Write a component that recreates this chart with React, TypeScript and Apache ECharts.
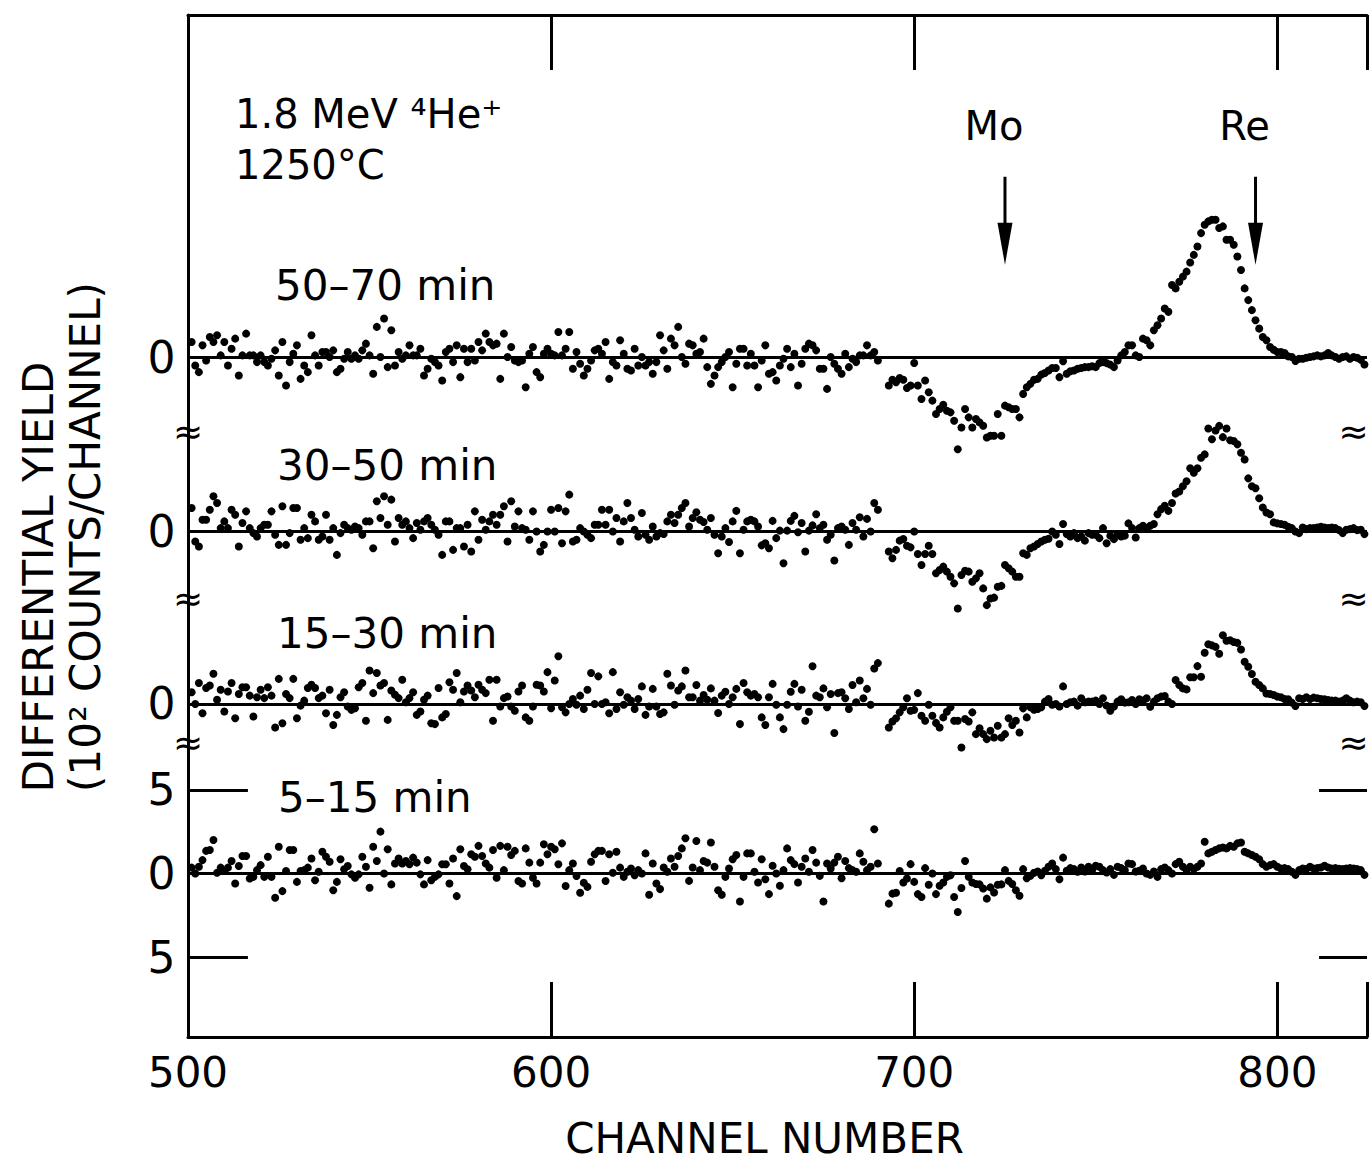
import React, { useEffect, useRef } from "react";
import * as echarts from "echarts";

const FONT = '"DejaVu Sans", sans-serif';

// channel numbers
const noiseStartChannel = 501;
const tailStartChannel = 693;
const xTickLabels = [500, 600, 700, 800];

// vertical offsets of the four stacked spectra (10^2 counts/channel)
const traceOffsets = [0, 10.12, 20.42, 30.83];
const traceLabels = ["5–15 min", "15–30 min", "30–50 min", "50–70 min"];

// ---------- 50-70 min ----------
const noise50_70 = [
  0.9,-0.5,-0.9,0.7,-0.2,1.2,0.9,1.3,0.1,0.9,
  -0.5,0.5,1.1,-1.1,0.1,1.4,0.1,0.1,-0.3,0.1,
  -0.3,-0.5,-0.1,0.4,-1.1,0.9,-1.7,-0.3,0.2,0.7,
  -1.3,-0.5,-0.9,1.3,0.1,-0.5,0.3,0.3,0.0,0.4,
  -0.9,-0.7,-0.1,0.3,-0.1,0.1,-0.1,0.4,0.8,0.1,
  -1.0,1.8,0.0,2.3,-0.6,1.6,-0.5,0.3,-0.1,0.1,
  0.7,0.1,0.1,0.5,-1.1,-0.7,-0.1,-0.3,-0.5,-1.4,
  0.3,0.5,-0.3,0.7,-1.2,0.5,-0.3,0.5,-0.2,0.9,
  0.4,1.4,0.9,0.7,0.8,-1.3,1.4,0.0,0.6,-0.2,
  -0.3,-0.2,-1.8,0.2,0.6,-0.9,-1.2,0.2,0.5,0.2,
  0.1,1.5,0.1,0.5,1.5,-0.7,0.3,-0.4,-1.1,-0.7,
  -0.2,0.4,0.5,0.2,0.9,-1.3,-0.3,-0.5,1.0,0.2,
  -0.7,-0.8,0.5,-0.5,0.0,-0.5,-0.3,-1.0,-0.3,1.3,
  0.4,-0.7,1.1,0.7,1.8,0.0,-0.4,0.8,0.7,0.2,
  0.3,1.1,-0.6,-1.6,-1.1,-0.6,-0.3,0.0,0.3,-1.8,
  -0.4,0.5,0.5,-0.5,0.2,-0.5,-1.8,-0.2,0.7,-1.0,
  -0.9,-1.4,-0.5,-0.1,0.5,-0.6,0.2,-1.7,-0.4,0.5,
  0.8,0.7,0.4,-0.7,-0.7,-1.9,0.0,-0.4,-0.7,-1.0,
  0.2,-0.6,-0.1,-0.3,0.1,0.1,0.7,0.1,0.3,-0.2,
];
const tail50_70 = [
  -1.7,-1.35,-1.5,-1.25,-1.35,-1.85,-1.7,-0.35,-1.7,-2.5,
  -1.4,-2.1,-2.6,-3.4,-3.1,-2.85,-3.2,-3.3,-3.8,-5.5,
  -4.2,-3.1,-3.6,-4.2,-3.7,-3.9,-4.1,-4.8,-4.7,-4.7,
  -3.4,-4.7,-2.9,-3.0,-3.1,-3.1,-3.6,-2.2,-1.8,-1.6,
  -1.35,-1.3,-1.05,-0.95,-0.8,-0.65,-0.65,-1.2,-0.25,-1.0,
  -0.85,-0.8,-0.7,-0.65,-0.6,-0.6,-0.55,-0.6,-0.36,-0.3,
  -0.36,-0.45,-0.6,-0.2,0.1,0.3,0.7,0.7,0.1,0.0,
  1.1,1.0,0.7,1.6,1.9,2.3,2.9,2.7,4.3,4.1,
  4.5,4.8,5.1,5.65,6.1,6.6,7.4,7.9,8.1,8.2,
  8.2,7.7,7.8,7.0,7.0,6.7,6.0,5.2,4.1,3.4,
  2.8,2.2,1.7,1.2,1.0,0.6,0.44,0.3,0.3,0.24,
  0.04,0.0,-0.24,-0.1,-0.1,-0.04,0.0,0.04,0.1,0.04,
  0.1,0.24,0.1,0.0,-0.1,0.0,0.04,-0.1,0.0,-0.04,
  -0.16,-0.44,
];

// ---------- 30-50 min ----------
const noise30_50 = [
  1.4,-0.6,-0.9,0.7,0.7,1.3,2.1,1.7,0.2,0.6,
  0.2,1.3,1.0,-0.9,0.5,1.2,0.2,-0.1,-0.3,0.2,
  0.4,0.4,1.2,-0.2,-0.8,1.5,-0.8,-0.1,1.4,1.4,
  -0.5,0.2,-0.4,1.0,0.6,-0.5,-0.3,1.0,-0.5,0.2,
  -1.4,-0.1,0.4,0.2,0.1,0.3,0.2,-0.2,0.6,0.6,
  -1.0,1.8,0.8,2.1,0.4,1.9,-0.6,0.8,0.4,0.6,
  0.2,-0.4,0.5,0.1,
  0.6,0.8,0.4,0.1,-0.2,-1.4,0.6,0.6,-1.1,0.2,
  0.2,-0.9,0.4,-1.2,1.2,-0.5,0.7,0.1,0.6,1.0,
  0.4,1.0,1.5,-0.6,1.8,0.3,1.2,0.2,0.1,-0.5,
  1.2,0.0,-1.2,-0.8,0.0,1.3,0.0,1.4,-0.7,1.2,
  2.2,-0.6,-0.5,0.2,0.0,-0.2,-0.4,0.4,0.4,1.3,
  0.4,1.3,0.0,0.8,-0.6,0.6,1.7,0.8,0.1,
  -0.3,1.1,-0.2,-0.5,0.3,-0.3,-0.1,-0.15,0.6,1.0,
  0.5,1.0,1.4,1.7,0.3,0.8,1.15,0.7,0.56,0.1,
  0.8,-0.2,-1.3,-0.3,0.2,-0.63,0.6,1.23,-1.3,0.1,
  0.6,0.7,0.6,0.3,-0.83,-0.7,-1.0,0.63,-0.4,0.05,
  -1.9,0.05,0.63,0.93,-0.05,0.5,-1.2,0.05,0.36,1.03,
  0.2,0.4,-0.5,-0.2,-1.73,0.2,0.3,0.1,-0.8,0.5,
  0.1,0.85,-0.3,0.75,0.0,1.7,1.3,
];
const tail30_50 = [
  -1.2,-1.6,-1.1,-0.55,-0.45,-0.85,-0.95,0.0,-1.35,-2.0,
  -1.35,-0.85,-1.35,-2.5,-2.3,-2.1,-2.4,-2.7,-3.1,-4.6,
  -2.6,-2.35,-2.4,-3.0,-2.8,-2.5,-3.4,-4.4,-4.0,-3.95,
  -3.3,-3.25,-2.0,-2.2,-2.4,-2.7,-2.7,-1.3,-1.4,-1.0,
  -0.9,-0.75,-0.6,-0.5,-0.44,0.0,-0.2,-0.75,0.44,-0.15,
  -0.3,-0.1,-0.4,-0.3,-0.55,-0.1,-0.2,-0.2,-0.4,0.2,
  -0.7,-0.25,-0.46,-0.2,-0.3,-0.25,0.48,0.2,-0.36,0.2,
  0.34,0.2,0.34,0.44,1.03,1.33,1.53,1.23,1.7,2.26,
  2.38,2.7,3.0,3.77,3.5,3.77,4.4,4.6,6.15,5.5,
  6.03,6.3,5.63,6.15,5.44,5.4,5.2,4.7,4.3,3.17,
  2.7,2.58,1.98,1.43,1.13,1.03,0.54,0.48,0.44,0.4,
  0.28,0.2,0.0,-0.1,0.24,0.14,0.2,0.2,0.24,0.28,
  0.24,0.2,0.24,0.2,0.08,-0.1,0.1,0.14,0.2,0.08,
  0.1,-0.16,
];

// ---------- 15-30 min ----------
const noise15_30 = [
  0.7,0.0,1.25,-0.55,0.95,1.1,1.8,0.25,0.85,-0.45,
  0.75,1.25,-0.85,0.6,1.0,1.0,0.5,-0.75,0.4,0.85,
  0.35,1.0,0.5,-1.4,1.5,-1.15,0.6,0.35,1.5,-0.85,
  -0.1,0.2,0.95,1.15,0.95,0.35,0.5,-0.55,0.85,-1.25,
  -0.65,0.4,0.7,-0.15,-0.35,-0.25,1.0,1.25,-1.0,2.0,
  0.65,1.85,1.1,1.25,-0.95,0.8,0.55,0.35,1.45,0.1,
  0.35,0.7,-0.65,-0.45,0.25,0.5,-1.15,-1.2,0.95,-0.8,
  -0.6,1.3,0.85,1.85,0.1,0.75,1.1,0.8,0.4,1.15,
  0.85,0.65,1.45,-1.0,1.45,-0.15,0.35,0.45,-0.15,-0.4,
  0.75,1.1,-0.8,-1.0,-0.15,1.15,1.1,0.75,1.9,-0.25,
  1.4,2.85,-0.2,-0.5,0.0,0.3,-0.05,0.5,-0.3,0.85,
  1.85,0.0,1.65,0.0,0.1,-0.55,1.9,-0.3,0.7,-0.05,
  0.4,0.2,-0.3,
  0.3,1.05,-0.65,-0.15,0.9,-0.15,-0.6,-0.5,1.8,1.1,
  -0.05,0.8,1.05,2.0,0.4,0.4,1.13,0.2,0.54,0.25,
  0.93,0.2,-0.54,0.5,0.73,0.0,0.4,0.9,-1.2,1.25,
  0.7,0.5,0.6,0.4,-0.8,-1.25,0.4,1.2,-0.05,-0.8,
  -1.5,-0.05,0.73,1.2,-0.15,0.85,-1.0,-0.46,2.25,0.5,
  0.4,0.93,-0.2,0.6,-1.73,0.65,0.7,0.34,-0.3,1.13,
  0.1,1.4,0.34,0.9,-0.05,2.12,2.44,
];
const tail15_30 = [
  -1.4,-1.05,-0.85,-0.5,-0.2,0.34,-0.4,-0.35,0.65,-0.7,
  -1.0,-0.05,-0.7,-1.13,-1.4,-0.8,-0.46,-0.2,-1.0,-1.0,
  -2.6,-0.9,-1.05,-0.5,-1.8,-1.45,-1.8,-2.1,-1.6,-2.0,
  -1.3,-2.0,-1.8,-0.85,-1.25,-1.0,-1.7,-0.26,-0.8,-0.2,
  -0.34,-0.3,-0.2,0.14,0.3,-0.05,0.0,-0.15,1.05,0.0,
  0.1,0.14,-0.1,0.34,0.1,0.14,0.14,0.2,0.0,0.34,
  -0.1,-0.4,-0.15,0.14,0.28,0.08,0.1,0.24,0.0,0.28,
  0.2,0.34,-0.16,0.14,0.34,0.44,0.48,0.14,0.0,1.43,
  1.13,0.93,0.87,1.6,1.6,2.26,1.63,3.06,3.57,3.5,
  3.41,3.0,4.1,3.77,3.8,3.7,3.65,3.25,2.52,2.22,
  1.79,1.33,1.13,0.93,0.63,0.6,0.54,0.44,0.4,0.3,
  0.28,0.08,-0.12,0.34,0.3,0.4,0.3,0.38,0.34,0.3,
  0.28,0.24,0.2,0.2,0.14,0.2,0.34,0.2,0.1,0.14,
  0.1,-0.12,
];

// ---------- 5-15 min ----------
const noise5_15 = [
  0.35,0.0,0.4,0.8,1.35,1.4,2.0,0.05,0.35,0.15,
  0.35,0.75,-0.6,0.45,1.05,1.05,-0.3,-0.2,0.2,0.5,
  -0.2,1.0,-0.2,-1.45,1.6,-1.05,0.15,1.4,1.4,-0.5,
  0.15,0.2,0.35,0.9,-0.4,0.1,1.3,1.0,0.7,-1.0,
  -0.5,0.85,0.25,0.45,-0.05,-0.25,-0.05,1.0,0.4,-0.85,
  1.6,0.75,2.5,0.0,1.45,-0.65,0.6,0.9,0.6,0.75,
  0.55,0.95,0.65,-0.05,-0.65,0.8,-0.4,-0.2,-0.05,0.55,
  0.55,-0.6,0.9,-1.35,1.45,0.45,0.25,1.15,1.0,1.65,
  1.05,0.6,0.35,1.4,-0.25,1.65,0.2,1.6,1.1,1.35,
  -0.45,-0.6,1.5,0.65,-0.25,-0.6,0.65,1.75,1.15,1.6,
  1.45,0.55,1.8,-0.75,0.2,0.6,-0.15,-1.15,-0.55,-0.8,
  0.7,1.15,1.35,1.35,-0.45,1.15,0.05,1.3,0.35,-0.2,
  0.1,0.3,-0.1,0.2,
  0.0,1.2,-1.27,0.6,-0.6,-0.93,0.36,0.1,0.9,0.4,
  1.05,1.5,2.1,-0.44,0.36,1.94,0.2,0.75,0.65,1.85,
  0.4,-1.0,-1.27,-0.2,0.3,0.85,1.1,-1.67,-0.2,1.2,
  1.2,0.1,-0.54,0.85,-0.34,-1.23,0.46,0.0,-0.73,0.2,
  1.5,0.8,0.56,-0.54,0.4,0.9,0.1,1.4,0.65,-0.14,
  -1.67,0.6,0.3,0.65,1.0,-0.28,0.75,0.32,0.2,0.1,
  1.2,0.7,0.2,0.4,2.64,0.6,
];
const tail5_15 = [
  -1.8,-1.2,-1.15,0.15,-0.54,-0.3,0.56,-0.5,-1.23,-1.4,
  0.32,-0.67,0.0,-1.23,-0.73,-0.54,-0.2,-0.1,-1.4,-2.3,
  -0.87,0.75,-0.2,-0.54,-0.63,-0.65,-0.9,-1.5,-0.83,-1.13,
  -0.67,-0.65,0.2,-0.44,-0.63,-1.0,-1.33,0.26,-0.28,-0.14,
  0.04,0.12,-0.1,0.16,0.4,0.6,0.26,-0.34,0.95,0.16,
  0.32,0.26,0.1,0.36,0.12,0.4,0.2,0.46,0.4,0.2,
  0.06,0.26,-0.08,0.4,0.32,0.2,0.6,0.56,0.12,0.16,
  0.3,0.0,-0.08,0.12,-0.2,0.26,0.36,0.2,0.0,0.56,
  0.7,0.4,0.2,0.4,0.26,0.4,0.6,1.9,1.2,1.3,
  1.4,1.5,1.55,1.5,1.65,1.6,1.8,1.85,1.3,1.2,
  1.1,1.0,0.85,0.56,0.4,0.5,0.56,0.4,0.3,0.32,
  0.26,0.1,-0.08,0.2,0.3,0.26,0.4,0.3,0.32,0.36,
  0.46,0.36,0.3,0.32,0.28,0.26,0.3,0.32,0.3,0.26,
  0.2,-0.08,
];

const noiseSets = [noise5_15, noise15_30, noise30_50, noise50_70];
const tailSets = [tail5_15, tail15_30, tail30_50, tail50_70];

// scale marks of the lowest spectrum (±5 ×10^2 counts)
const scaleMarks = [5, -5];
// axis-break marks (in axis units)
const breakMarks = [26.4, 16.4, 7.8];
// element markers: [label, channel]
const elementArrows: [string, number][] = [["Mo", 725], ["Re", 794]];

const X_MIN = 500;
const X_MAX = 824.7;
const Y_MIN = -9.76;
const Y_MAX = 51.25;
const INK = "#000";

export default function App() {
  const ref = useRef<HTMLDivElement>(null);

  useEffect(() => {
    if (!ref.current) return;
    const chart = echarts.init(ref.current, undefined, { renderer: "svg" });

    const dotSeries: any[] = traceOffsets.map((off, t) => {
      const pts: number[][] = [];
      noiseSets[t].forEach((v, i) => pts.push([noiseStartChannel + i, v + off]));
      tailSets[t].forEach((v, i) => pts.push([tailStartChannel + i, v + off]));
      const s: any = {
        type: "scatter",
        name: traceLabels[t],
        data: pts,
        symbol: "circle",
        symbolSize: 8,
        itemStyle: { color: INK, opacity: 1 },
        silent: true,
        markLine: {
          silent: true,
          symbol: ["none", "none"],
          label: { show: false },
          lineStyle: { color: INK, width: 3, type: "solid", opacity: 1 },
          data: [{ yAxis: off }],
        },
      };
      if (t === 0) {
        const segs: any[] = [{ yAxis: off }];
        scaleMarks.forEach((m) => {
          segs.push([{ coord: [X_MIN, m] }, { coord: [516.5, m] }]);
          segs.push([{ coord: [811.5, m] }, { coord: [X_MAX, m] }]);
        });
        s.markLine.data = segs;
      }
      return s;
    });

    const labelPoints: any[] = [];
    traceOffsets.forEach((off) => labelPoints.push({ name: "0", value: [X_MIN, off] }));
    scaleMarks.forEach((m) => labelPoints.push({ name: "5", value: [X_MIN, m] }));

    const breakPoints: any[] = [];
    breakMarks.forEach((b) => {
      breakPoints.push({ name: "≈", value: [X_MIN, b] });
      breakPoints.push({ name: "≈", value: [821, b] });
    });

    const hidden = { color: "rgba(0,0,0,0)", opacity: 1 };

    const arrowSeries: any[] = [];
    elementArrows.forEach(([lab, ch]) => {
      arrowSeries.push({
        type: "line",
        data: [[ch, 41.6], [ch, 38.2]],
        symbol: "none",
        lineStyle: { color: INK, width: 3 },
        silent: true,
      });
    });
    arrowSeries.push({
      type: "scatter",
      data: elementArrows.map(([lab, ch]) => [ch, 37.6]),
      symbol: "path://M0,0 L10,0 L5,30 Z",
      symbolSize: [15, 42],
      itemStyle: { color: INK, opacity: 1 },
      silent: true,
    });
    arrowSeries.push({
      type: "scatter",
      data: elementArrows.map(([lab, ch]) => ({ name: lab, value: [ch - 3, 44.6] })),
      symbolSize: 1,
      itemStyle: hidden,
      label: {
        show: true,
        position: "inside",
        formatter: "{b}",
        fontSize: 40,
        fontFamily: FONT,
        color: INK,
        opacity: 1,
      },
      silent: true,
    });

    const txt = (t: string, x: number, y: number, size: number, align = "left", rotation = 0) => ({
      type: "text",
      x,
      y,
      rotation,
      silent: true,
      style: {
        text: t,
        fontSize: size,
        fontFamily: FONT,
        fill: INK,
        align,
        verticalAlign: "middle",
        textAlign: align,
        textVerticalAlign: "middle",
      },
    });

    const option: any = {
      animation: false,
      backgroundColor: "#fff",
      grid: { left: 188, right: 0, top: 15, bottom: 124, containLabel: false },
      xAxis: [
        {
          type: "value",
          min: X_MIN,
          max: X_MAX,
          interval: 100,
          position: "bottom",
          axisLine: { show: true, onZero: false, lineStyle: { color: INK, width: 3 } },
          axisTick: { show: true, inside: true, length: 55, lineStyle: { color: INK, width: 3 } },
          splitLine: { show: false },
          axisLabel: {
            show: true,
            margin: 14,
            fontSize: 42,
            fontFamily: FONT,
            color: INK,
            formatter: (v: number) => (xTickLabels.indexOf(v) >= 0 ? String(v) : ""),
          },
          name: "CHANNEL NUMBER",
          nameLocation: "middle",
          nameGap: 80,
          nameTextStyle: { fontSize: 42, fontFamily: FONT, color: INK, padding: [0, 26, 0, 0] },
        },
        {
          type: "value",
          min: X_MIN,
          max: X_MAX,
          interval: 100,
          position: "top",
          axisLine: { show: true, onZero: false, lineStyle: { color: INK, width: 3 } },
          axisTick: { show: true, inside: true, length: 55, lineStyle: { color: INK, width: 3 } },
          splitLine: { show: false },
          axisLabel: { show: false },
        },
      ],
      yAxis: {
        type: "value",
        min: Y_MIN,
        max: Y_MAX,
        axisLine: { show: true, onZero: false, lineStyle: { color: INK, width: 3 } },
        axisTick: { show: false },
        axisLabel: { show: false },
        splitLine: { show: false },
      },
      series: [
        ...dotSeries,
        {
          type: "scatter",
          data: labelPoints,
          symbolSize: 1,
          itemStyle: hidden,
          label: {
            show: true,
            position: "left",
            distance: 12,
            formatter: "{b}",
            fontSize: 44,
            fontFamily: FONT,
            color: INK,
            opacity: 1,
          },
          silent: true,
        },
        {
          type: "scatter",
          data: breakPoints,
          symbolSize: 1,
          clip: false,
          itemStyle: hidden,
          label: {
            show: true,
            position: "inside",
            formatter: "{b}",
            fontSize: 36,
            fontFamily: FONT,
            color: INK,
            opacity: 1,
          },
          silent: true,
        },
        ...arrowSeries,
      ],
      graphic: [
        txt("1.8 MeV ⁴He⁺", 235, 114, 40),
        txt("1250°C", 235, 165, 40),
        txt(traceLabels[3], 275, 285, 42),
        txt(traceLabels[2], 277, 465, 42),
        txt(traceLabels[1], 277, 633, 42),
        txt(traceLabels[0], 278, 797, 42),
        txt("DIFFERENTIAL YIELD", 38, 577, 42, "center", Math.PI / 2),
        txt("(10² COUNTS/CHANNEL)", 85, 537, 42, "center", Math.PI / 2),
      ],
    };

    chart.setOption(option);
    return () => chart.dispose();
  }, []);

  return (
    <div
      ref={ref}
      style={{ position: "absolute", left: 0, top: 0, width: 1370, height: 1164, background: "#fff" }}
    />
  );
}
